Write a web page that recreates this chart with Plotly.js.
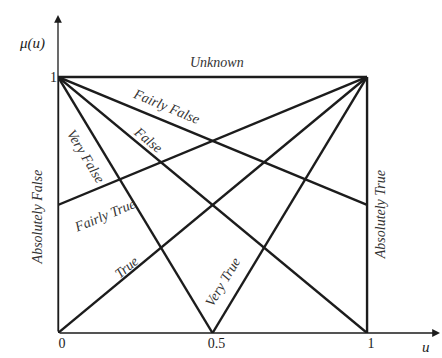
<!DOCTYPE html>
<html>
<head>
<meta charset="utf-8">
<script src="https://cdn.plot.ly/plotly-3.0.1.min.js"></script>
<style>
  html, body { margin: 0; padding: 0; background: #fff; }
  #chart { width: 442px; height: 358px; }
</style>
</head>
<body>
<div id="chart"></div>
<script>
// truth value membership lines, endpoints in (u, mu)
const truthLabels = ['Unknown', 'Fairly False', 'False', 'Very False', 'Fairly True', 'True', 'Very True', 'Absolutely False', 'Absolutely True'];
const lineU = [[0, 1], [0, 1], [0, 1], [0, 0.5], [0, 1], [0, 1], [0.5, 1], [0, 0], [1, 1]];
const lineMu = [[1, 1], [1, 0.5], [1, 0], [1, 0], [0.5, 1], [0, 1], [0, 1], [0, 1], [0, 1]];

const xTicks = [0, 0.5, 1];
const xTickText = ['0', '0.5', '1'];
const yTicks = [1];
const yTickText = ['1'];

const xMax = 1.236;
const yMax = 1.242;
const ink = '#1c1c1c';
const serif = 'Liberation Serif, DejaVu Serif, serif';

const traces = truthLabels.map((name, i) => ({
    x: lineU[i],
    y: lineMu[i],
    name: name,
    mode: 'lines',
    type: 'scatter',
    line: { color: ink, width: 2.4 },
    hoverinfo: 'name'
}));

// where each label sits and how it leans (pixel angle of its line)
const labelPlace = {
    'Unknown':          { x: 0.515, y: 1.055, a: 0 },
    'Fairly False':     { x: 0.35,  y: 0.885, a: 22.5 },
    'False':            { x: 0.29,  y: 0.755, a: 39.6 },
    'Very False':       { x: 0.09,  y: 0.69,  a: 59 },
    'Fairly True':      { x: 0.152, y: 0.46,  a: -22.5 },
    'True':             { x: 0.222, y: 0.255, a: -39.6 },
    'Very True':        { x: 0.535, y: 0.2,   a: -59 },
    'Absolutely False': { x: -0.065, y: 0.455, a: -90 },
    'Absolutely True':  { x: 1.042, y: 0.46,  a: -90 }
};

// paper refs so labels left of the axis still show
const annotations = truthLabels.map(name => ({
    x: labelPlace[name].x / xMax,
    y: labelPlace[name].y / yMax,
    xref: 'paper', yref: 'paper',
    xanchor: 'center', yanchor: 'middle',
    text: '<i>' + name + '</i>',
    textangle: labelPlace[name].a,
    showarrow: false,
    font: { family: serif, size: 14, color: '#333' }
}));

// axis arrows
annotations.push({
    x: xMax, y: 0, ax: 0, ay: 0, xref: 'x', yref: 'y', axref: 'x', ayref: 'y',
    showarrow: true, arrowhead: 2, arrowsize: 1.2, arrowwidth: 1.3, arrowcolor: ink, text: ''
});
annotations.push({
    x: 0, y: yMax, ax: 0, ay: 0, xref: 'x', yref: 'y', axref: 'x', ayref: 'y',
    showarrow: true, arrowhead: 2, arrowsize: 1.2, arrowwidth: 1.3, arrowcolor: ink, text: ''
});
// axis names
annotations.push({
    x: -0.085 / xMax, y: 1.13 / yMax, xref: 'paper', yref: 'paper',
    xanchor: 'center', yanchor: 'middle', text: '<i>μ(u)</i>', showarrow: false,
    font: { family: serif, size: 15, color: ink }
});
annotations.push({
    x: 1.19 / xMax, y: -0.055 / yMax, xref: 'paper', yref: 'paper',
    xanchor: 'center', yanchor: 'middle', text: '<i>u</i>', showarrow: false,
    font: { family: serif, size: 15, color: ink }
});

const layout = {
    width: 442,
    height: 358,
    margin: { l: 58, r: 2, t: 15, b: 25 },
    showlegend: false,
    paper_bgcolor: '#fff',
    plot_bgcolor: '#fff',
    xaxis: {
        range: [0, xMax],
        tickvals: xTicks,
        ticktext: xTickText,
        ticks: '',
        showgrid: false,
        zeroline: false,
        showline: false,
        ticklabelshift: 4,
        tickfont: { family: serif, size: 14, color: ink }
    },
    yaxis: {
        range: [0, yMax],
        tickvals: yTicks,
        ticktext: yTickText,
        ticks: '',
        showgrid: false,
        zeroline: false,
        showline: false,
        tickfont: { family: serif, size: 14, color: ink }
    },
    annotations: annotations,
    font: { family: serif }
};

Plotly.newPlot('chart', traces, layout, { displayModeBar: false, staticPlot: true });
</script>
</body>
</html>
